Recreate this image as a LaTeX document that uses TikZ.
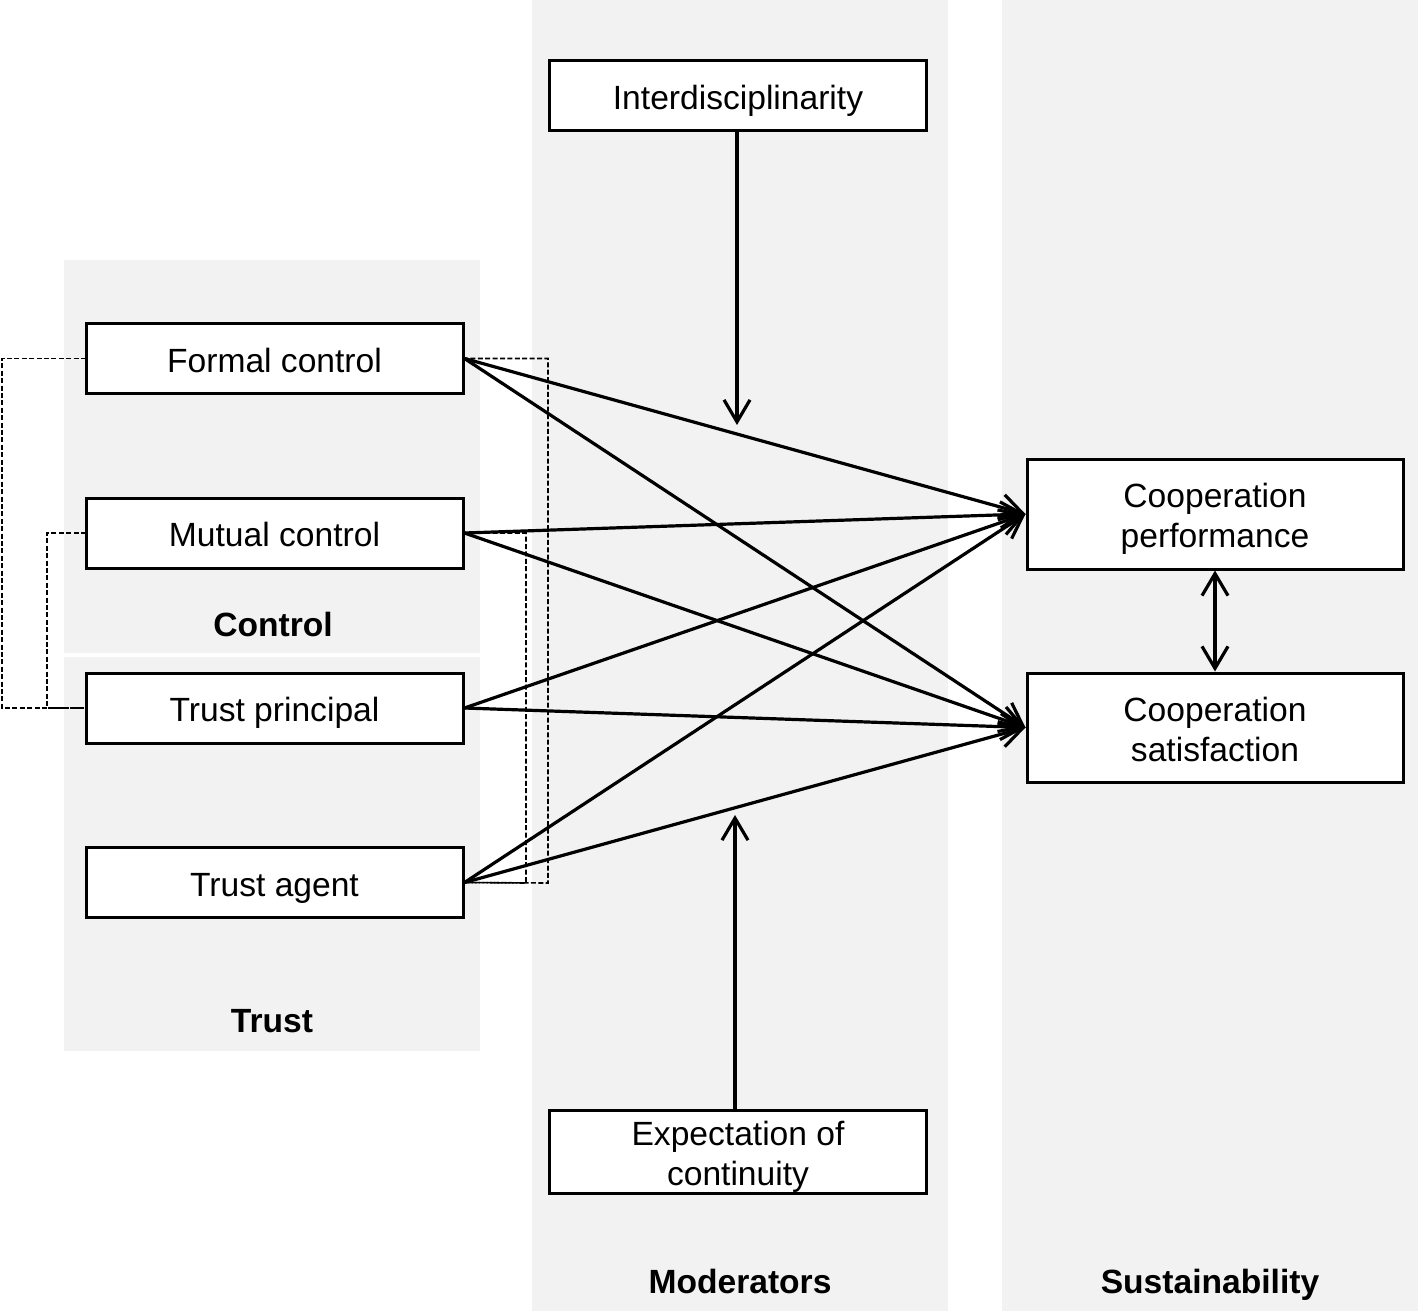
\documentclass[tikz,border=0pt]{standalone}
\usepackage{fontspec}
\setmainfont{Liberation Sans}
\usetikzlibrary{arrows.meta}
\newcommand{\lowtxt}[1]{\raisebox{-2.8pt}[\height][\depth]{\begin{tabular}{@{}c@{}}#1\end{tabular}}}
\begin{document}
\begin{tikzpicture}[x=0.5pt,y=-0.5pt,
  box/.style={draw=black,line width=1.5pt,fill=white,inner sep=0pt,minimum width=188.5pt,minimum height=35pt,align=center,font=\fontsize{16.8}{20}\selectfont},
  grp/.style={font=\fontsize{16.8}{20}\selectfont\bfseries,anchor=base},
  arr/.style={line width=1.6pt,-{Straight Barb[length=11pt,width=13pt,line width=1.6pt]}},
  dbl/.style={line width=1.6pt,{Straight Barb[length=11pt,width=13pt,line width=1.6pt]}-{Straight Barb[length=11pt,width=13pt,line width=1.6pt]}},
  dsh/.style={line width=0.8pt,dash pattern=on 2.5pt off 1.2pt}]
\definecolor{panelgray}{HTML}{F2F2F2}
\useasboundingbox (0,0) rectangle (1418,1311);
\fill[white] (0,0) rectangle (1418,1311);
% panels
\fill[panelgray] (64,260) rectangle (480,653);
\fill[panelgray] (64,657) rectangle (480,1051);
\fill[panelgray] (532,0) rectangle (948,1311);
\fill[panelgray] (1002,0) rectangle (1418,1311);
% group labels
\node[grp] (lcontrol) at (273,636) {Control};
\node[grp] (ltrust) at (272,1032) {Trust};
\node[grp] (lmod) at (740,1293) {Moderators};
\node[grp] (lsus) at (1210,1293) {Sustainability};
% dashed connectors (drawn first)
\coordinate (fcL) at (86,358.5);
\coordinate (mcL) at (86,533);
\coordinate (tpL) at (86,708);
\coordinate (fcR) at (463,358.5);
\coordinate (mcR) at (463,533);
\coordinate (taR) at (463,882.5);
\draw[dsh] (fcL) -- (2,358.5) -- (2,708) -- (tpL);
\draw[dsh] (mcL) -- (47,533) -- (47,708) -- (tpL);
\draw[dsh] (fcR) -- (548,358.5) -- (548,883) -- (taR);
\draw[dsh] (mcR) -- (526,533) -- (526,883) -- (taR);
% boxes
\node[box] (fc) at (274.5,358.5) {\lowtxt{Formal control}};
\node[box] (mc) at (274.5,533) {\lowtxt{Mutual control}};
\node[box] (tp) at (274.5,708) {\lowtxt{Trust principal}};
\node[box] (ta) at (274.5,882.5) {\lowtxt{Trust agent}};
\node[box] (inter) at (738,96) {\lowtxt{Interdisciplinarity}};
\node[box,minimum height=41.5pt] (exp) at (738,1151.5) {\lowtxt{Expectation of\\continuity}};
\node[box,minimum width=188pt,minimum height=55pt] (cp) at (1215,514) {\lowtxt{Cooperation\\performance}};
\node[box,minimum width=188pt,minimum height=54.5pt] (cs) at (1215,727.5) {\lowtxt{Cooperation\\satisfaction}};
% arrows
\foreach \s in {fc,mc,tp,ta}{
  \draw[arr] (\s.east) -- (cp.west);
  \draw[arr] (\s.east) -- (cs.west);
}
\coordinate (itip) at (737,425);
\coordinate (etip) at (735,815);
\draw[arr] (inter.south -| itip) -- (itip);
\draw[arr] (exp.north -| etip) -- (etip);
\draw[dbl] (cp.south) -- (cs.north);
\end{tikzpicture}
\end{document}
